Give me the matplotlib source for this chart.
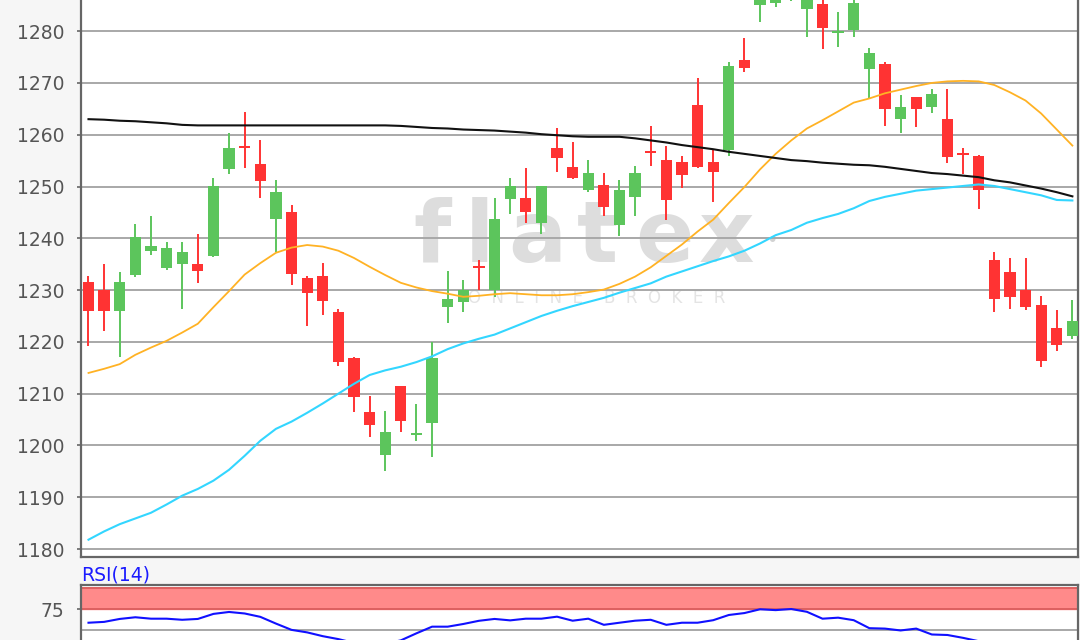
import numpy as np
import matplotlib.pyplot as plt

# daily candles
opens = [1231.5, 1230.1, 1225.9, 1232.9, 1237.5, 1234.3, 1235.1, 1235.0, 1236.6, 1253.3,
         1257.9, 1254.3, 1243.7, 1245.0, 1232.3, 1232.7, 1225.8, 1216.8, 1206.4, 1198.1,
         1211.5, 1202.1, 1204.4, 1226.7, 1227.7, 1234.5, 1230.1, 1247.5, 1247.8, 1242.9,
         1257.4, 1253.8, 1249.3, 1250.3, 1242.5, 1248.0, 1256.7, 1255.1, 1254.7, 1265.8,
         1254.7, 1257.0, 1274.4, 1285.0, 1285.5, 1287.0, 1284.2, 1285.2, 1279.8, 1280.2,
         1272.6, 1273.6, 1263.0, 1267.3, 1265.3, 1263.1, 1256.3, 1255.9, 1235.8, 1233.4,
         1230.0, 1227.2, 1222.6, 1221.1]
highs = [1232.8, 1235.0, 1233.4, 1242.7, 1244.3, 1239.2, 1239.2, 1240.8, 1251.6, 1260.4,
         1264.4, 1259.0, 1251.2, 1246.5, 1232.7, 1235.3, 1226.4, 1217.1, 1209.5, 1206.7,
         1211.5, 1208.0, 1220.0, 1233.7, 1231.9, 1235.8, 1247.7, 1251.7, 1253.6, 1250.1,
         1261.2, 1258.6, 1255.1, 1252.7, 1251.2, 1253.9, 1261.7, 1257.9, 1255.9, 1271.0,
         1257.0, 1274.1, 1278.6, 1291.0, 1288.5, 1292.5, 1291.0, 1288.0, 1283.6, 1287.0,
         1276.7, 1274.0, 1267.6, 1267.3, 1268.9, 1268.9, 1257.4, 1256.1, 1237.3, 1236.2,
         1236.2, 1228.8, 1226.1, 1228.1]
lows = [1219.2, 1222.1, 1217.0, 1232.5, 1236.7, 1233.9, 1226.3, 1231.3, 1236.3, 1252.5,
        1253.6, 1247.8, 1237.4, 1231.0, 1223.1, 1225.2, 1215.4, 1206.5, 1201.6, 1195.1,
        1202.6, 1200.8, 1197.7, 1223.6, 1225.8, 1230.1, 1228.6, 1244.7, 1242.9, 1240.9,
        1252.8, 1251.4, 1249.0, 1244.3, 1240.5, 1244.3, 1254.0, 1243.6, 1249.8, 1253.6,
        1247.0, 1255.9, 1272.1, 1281.8, 1284.6, 1285.8, 1278.8, 1276.5, 1276.9, 1278.8,
        1267.0, 1261.7, 1260.4, 1261.4, 1264.1, 1254.5, 1252.5, 1245.6, 1225.8, 1226.3,
        1226.1, 1215.1, 1218.3, 1220.5]
closes = [1225.9, 1225.9, 1231.5, 1240.3, 1238.5, 1238.1, 1237.3, 1233.6, 1250.1, 1257.4,
          1257.5, 1251.0, 1248.9, 1233.2, 1229.5, 1227.9, 1216.2, 1209.4, 1203.9, 1202.5,
          1204.7, 1202.3, 1216.8, 1228.3, 1230.0, 1234.3, 1243.8, 1250.1, 1245.1, 1250.1,
          1255.5, 1251.7, 1252.7, 1246.0, 1249.3, 1252.7, 1256.5, 1247.4, 1252.2, 1253.8,
          1252.8, 1273.2, 1272.9, 1289.5, 1287.0, 1290.5, 1289.0, 1280.7, 1280.0, 1285.5,
          1275.8, 1264.9, 1265.4, 1264.9, 1267.8, 1255.7, 1256.1, 1249.4, 1228.2, 1228.6,
          1226.7, 1216.4, 1219.4, 1224.1]

# moving averages
ma_black = [1263.0, 1262.9, 1262.7, 1262.6, 1262.4, 1262.2, 1261.9, 1261.8, 1261.8, 1261.8,
            1261.8, 1261.8, 1261.8, 1261.8, 1261.8, 1261.8, 1261.8, 1261.8, 1261.8, 1261.8,
            1261.7, 1261.5, 1261.3, 1261.2, 1261.0, 1260.9, 1260.8, 1260.6, 1260.4, 1260.1,
            1259.9, 1259.7, 1259.6, 1259.6, 1259.6, 1259.3, 1258.9, 1258.5, 1258.0, 1257.6,
            1257.2, 1256.7, 1256.3, 1255.9, 1255.5, 1255.1, 1254.9, 1254.6, 1254.4, 1254.2,
            1254.1, 1253.8, 1253.4, 1253.0, 1252.6, 1252.4, 1252.1, 1251.8, 1251.2, 1250.8,
            1250.2, 1249.6, 1248.9, 1248.1]
ma_orange = [1214.0, 1214.8, 1215.7, 1217.5, 1218.9, 1220.2, 1221.8, 1223.5, 1226.7, 1229.8,
             1233.0, 1235.2, 1237.2, 1238.2, 1238.7, 1238.4, 1237.6, 1236.2, 1234.5, 1232.9,
             1231.4, 1230.5, 1229.8, 1229.3, 1228.7, 1228.9, 1229.2, 1229.4, 1229.2, 1229.0,
             1229.0, 1229.2, 1229.6, 1230.1, 1231.2, 1232.6, 1234.4, 1236.6, 1238.8, 1241.3,
             1243.6, 1246.8, 1249.9, 1253.3, 1256.3, 1258.9, 1261.2, 1262.8, 1264.5, 1266.2,
             1267.0, 1268.0, 1268.7, 1269.4, 1270.0, 1270.3, 1270.4, 1270.3, 1269.6, 1268.2,
             1266.6, 1264.1, 1261.0, 1257.9]
ma_cyan = [1181.8, 1183.4, 1184.8, 1185.9, 1187.0, 1188.6, 1190.3, 1191.6, 1193.2, 1195.3,
           1198.0, 1200.9, 1203.2, 1204.6, 1206.3, 1208.1, 1210.0, 1211.9, 1213.6, 1214.5,
           1215.2, 1216.1, 1217.2, 1218.6, 1219.7, 1220.6, 1221.4, 1222.6, 1223.8, 1225.0,
           1226.0, 1226.9, 1227.7, 1228.5, 1229.5, 1230.4, 1231.3, 1232.6, 1233.6, 1234.6,
           1235.6, 1236.5, 1237.6, 1239.0, 1240.6, 1241.6, 1243.0, 1243.9, 1244.7, 1245.8,
           1247.2, 1248.0, 1248.6, 1249.2, 1249.5, 1249.8, 1250.1, 1250.4, 1250.1, 1249.5,
           1248.9, 1248.3, 1247.4, 1247.3]

# RSI(14)
rsi = [59.0, 60.0, 63.5, 65.5, 63.8, 63.8, 62.5, 63.5, 69.5, 71.8,
       70.0, 66.0, 58.0, 50.5, 47.5, 43.0, 39.5, 35.0, 33.0, 34.0,
       38.0, 46.4, 54.3, 54.3, 57.5, 61.3, 63.5, 61.8, 63.8, 63.8,
       66.2, 61.4, 63.8, 56.5, 59.0, 61.4, 62.5, 56.5, 59.0, 59.0,
       62.0, 68.2, 70.5, 75.0, 74.0, 75.3, 72.0, 63.8, 65.0, 62.0,
       52.5, 52.0, 49.8, 52.0, 45.0, 44.4, 41.0, 37.0, 30.0, 28.0,
       28.0, 22.0, 22.0, 25.0]

price_ticks = [1180, 1190, 1200, 1210, 1220, 1230, 1240, 1250, 1260, 1270, 1280]
rsi_ticks = [75]

green = '#5cc55c'
red = '#ff3333'
spine_col = '#666666'
grid_col = '#a8a8a8'

fig = plt.figure(figsize=(10.8, 6.4), dpi=100, facecolor='#f6f6f6')
ax = fig.add_axes([0.075, 0.1297, 0.923, 0.91875])
ax_rsi = fig.add_axes([0.075, -0.0703, 0.923, 0.15625])

x = np.arange(len(opens))
o = np.array(opens)
h = np.array(highs)
l = np.array(lows)
c = np.array(closes)
cols = np.where(c >= o, green, red)

# candles
ax.vlines(x, l, h, colors=cols, linewidth=1.4, zorder=2)
size = np.abs(c - o)
min_h = 0.35
body_h = np.maximum(size, min_h)
body_b = np.where(size < min_h, (o + c) / 2 - min_h / 2, np.minimum(o, c))
ax.bar(x, body_h, bottom=body_b, width=0.72, color=cols, linewidth=0, zorder=3)

# moving averages on top
ax.plot(x, ma_orange, color='#ffb224', linewidth=1.3, zorder=4)
ax.plot(x, ma_cyan, color='#33d6ff', linewidth=1.5, zorder=4)
ax.plot(x, ma_black, color='#111111', linewidth=1.5, zorder=4)

# watermark
letters = ['f', 'l', 'a', 't', 'e', 'x']
letter_x = [432, 480, 537, 597, 664, 726]
for ch, px in zip(letters, letter_x):
    ax.text(px / 1080, 1 - 262 / 640, ch, transform=fig.transFigure, ha='center',
            va='baseline', fontsize=62, fontweight='bold', color='#dddddd', zorder=0.1)
ax.text(772 / 1080, 1 - 240 / 640, '\u2022', transform=fig.transFigure, ha='center',
        va='center', fontsize=14, color='#d2d2d2', zorder=0.1)
ax.text(597 / 1080, 1 - 298 / 640, '  '.join('ONLINE') + '    ' + '  '.join('BROKER'),
        transform=fig.transFigure, ha='center', va='center', fontsize=12,
        color='#e4e4e4', zorder=0.1)

ax.set_xlim(-0.48, 63.35)
ax.set_ylim(1178.46, 1292)
ax.set_yticks(price_ticks)
ax.axhline(1290, color=grid_col, linewidth=1.4, zorder=0.5)
ax.yaxis.grid(True, color=grid_col, linewidth=1.4)
ax.set_axisbelow(True)
ax.set_xticks([])

# RSI panel
ax_rsi.axhspan(75, 100, color='#ff8a8a', zorder=1)
ax_rsi.axhline(100, color='#dd6060', linewidth=1.4, zorder=2)
ax_rsi.axhline(75, color='#dd6060', linewidth=1.4, zorder=2)
ax_rsi.axhline(50, color=grid_col, linewidth=1.4, zorder=1)
ax_rsi.axhline(25, color=grid_col, linewidth=1.4, zorder=1)
ax_rsi.plot(x, rsi, color='#1010ff', linewidth=1.5, zorder=3)
ax_rsi.set_xlim(-0.48, 63.35)
ax_rsi.set_ylim(-15.1, 103.9)
ax_rsi.set_yticks(rsi_ticks)
ax_rsi.set_xticks([])
fig.text(81 / 1080, 1 - 575 / 640, 'RSI(14)', color='#1a1aff', fontsize=13.5, va='center')

for a in (ax, ax_rsi):
    for s in a.spines.values():
        s.set_color(spine_col)
        s.set_linewidth(1.6)
    a.tick_params(axis='y', direction='out', length=3, width=1.2, color=spine_col,
                  labelcolor='#555555', labelsize=13.5, pad=9)

fig.savefig('out.png', dpi=100, facecolor=fig.get_facecolor())
